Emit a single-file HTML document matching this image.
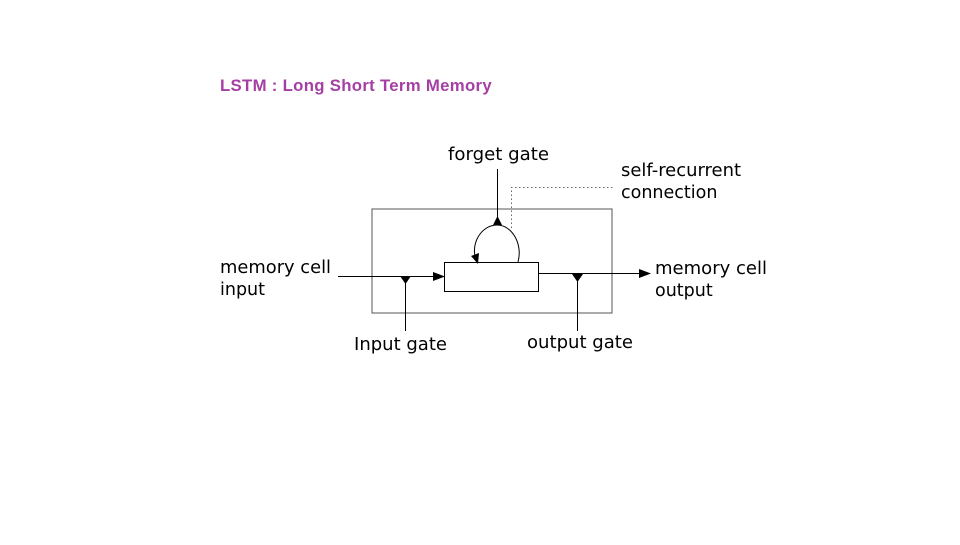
<!DOCTYPE html>
<html><head><style>
body{margin:0;background:#fff;}
svg text{font-family:"DejaVu Sans",sans-serif;font-size:17.5px;fill:#000;}
</style></head><body>
<svg width="960" height="540" viewBox="0 0 960 540" xmlns="http://www.w3.org/2000/svg">
<text x="220" y="91" style="font-family:'Liberation Sans',sans-serif;font-weight:bold;font-size:16.5px;letter-spacing:0.3px;fill:#a43fa4" textLength="272" lengthAdjust="spacingAndGlyphs">LSTM : Long Short Term Memory</text>
<rect x="372" y="209" width="240" height="104" fill="none" stroke="#555" stroke-width="1"/>
<rect x="444.5" y="262.5" width="94" height="29" fill="none" stroke="#000" stroke-width="1"/>
<line x1="338" y1="276.5" x2="436" y2="276.5" stroke="#000"/>
<polygon points="445,276.5 433,272 433,281" fill="#000"/>
<line x1="405.5" y1="276" x2="405.5" y2="331" stroke="#000"/>
<polygon points="400,276 411,276 405.5,284" fill="#000"/>
<line x1="538" y1="273.5" x2="642" y2="273.5" stroke="#000"/>
<polygon points="651,273.5 639,269 639,278" fill="#000"/>
<line x1="577.5" y1="274" x2="577.5" y2="331" stroke="#000"/>
<polygon points="572,274 583,274 577.5,282" fill="#000"/>
<line x1="497.5" y1="169" x2="497.5" y2="224" stroke="#000"/>
<polygon points="497.5,216 493,225 502,225" fill="#000"/>
<path d="M518,262 C523,244 512,225 497,225 C481,225 469,245 477,262" fill="none" stroke="#000" stroke-width="1"/>
<polygon points="471,256 478,264 479,253" fill="#000"/>
<polyline points="511.5,228 511.5,187.5 614,187.5" fill="none" stroke="#666" stroke-dasharray="1.5,2.5"/>
<text x="448" y="160" textLength="101" lengthAdjust="spacingAndGlyphs">forget gate</text>
<text x="621" y="176" textLength="120" lengthAdjust="spacingAndGlyphs">self-recurrent</text>
<text x="621" y="198">connection</text>
<text x="220" y="273" textLength="111" lengthAdjust="spacingAndGlyphs">memory cell</text>
<text x="220" y="295">input</text>
<text x="655" y="274" textLength="112" lengthAdjust="spacingAndGlyphs">memory cell</text>
<text x="655" y="296">output</text>
<text x="354" y="350" textLength="93" lengthAdjust="spacingAndGlyphs">Input gate</text>
<text x="527" y="348" textLength="106" lengthAdjust="spacingAndGlyphs">output gate</text>
</svg>
</body></html>
